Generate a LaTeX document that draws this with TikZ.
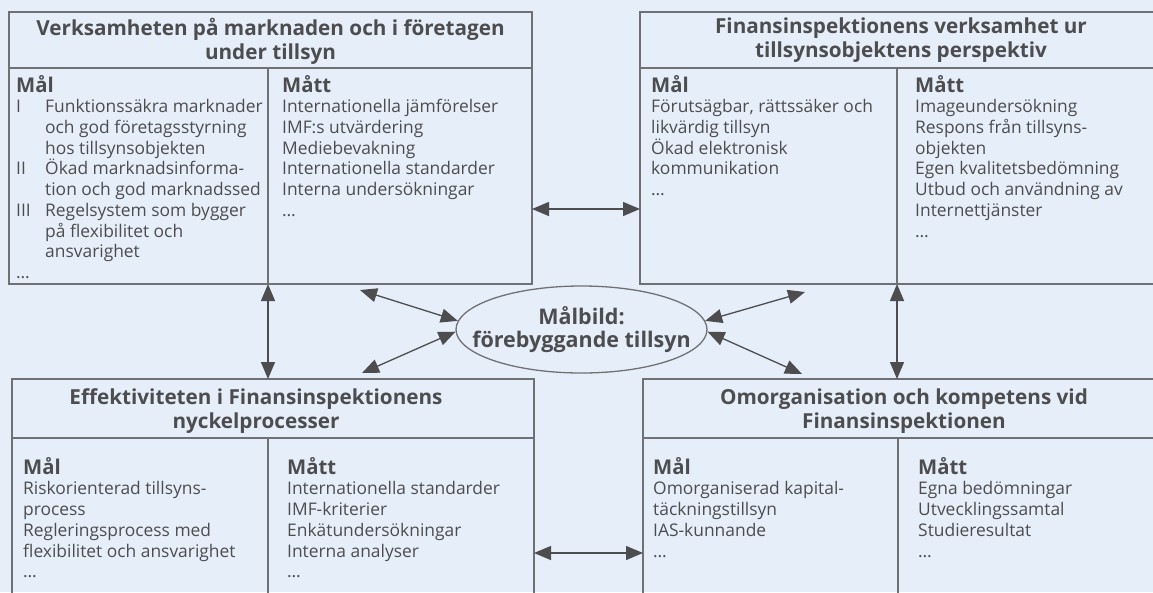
\documentclass[tikz,border=0pt]{standalone}
\usepackage{fontspec}
\setmainfont{Open Sans}
\usetikzlibrary{arrows.meta,positioning,shapes.geometric}
\definecolor{bg}{RGB}{230,238,249}
\definecolor{ink}{RGB}{77,77,80}
\definecolor{rl}{RGB}{112,113,117}
\newcommand{\romnr}[1]{\makebox[29pt][l]{#1}}
\newcommand{\hd}[1]{{\fontsize{20.3}{24}\selectfont\bfseries #1}}

\begin{document}
\begin{tikzpicture}[x=1pt, y=-1pt, text=ink,
  frame/.style={draw=rl, line width=1.3pt, inner sep=0pt, outer sep=0pt, anchor=north west},
  ttl/.style={font=\fontsize{20.7}{24}\selectfont\bfseries, align=center},
  txt/.style={font=\fontsize{17.4}{20.7}\selectfont, align=left, inner sep=0pt, anchor=north west},
  dbl/.style={draw=ink, line width=1.3pt, {Triangle[length=17pt,width=14pt]}-{Triangle[length=17pt,width=14pt]}}]
\useasboundingbox (0,0) rectangle (1153,592);
\fill[bg] (0,0) rectangle (1153,592);
\clip (0,0) rectangle (1153,592);
\node[frame, minimum width=523pt, minimum height=56pt] (verkHead) at (9,12) {};
\node[frame, minimum width=259pt, minimum height=216pt] (verkMal) at (9,68) {};
\node[frame, minimum width=264pt, minimum height=216pt] (verkMatt) at (268,68) {};
\node[frame, minimum width=523pt, minimum height=56pt] (finHead) at (640,12) {};
\node[frame, minimum width=257pt, minimum height=216pt] (finMal) at (640,68) {};
\node[frame, minimum width=266pt, minimum height=216pt] (finMatt) at (897,68) {};
\node[frame, minimum width=522pt, minimum height=59pt] (effHead) at (12,379) {};
\node[frame, minimum width=256pt, minimum height=230pt] (effMal) at (12,438) {};
\node[frame, minimum width=266pt, minimum height=230pt] (effMatt) at (268,438) {};
\node[frame, minimum width=522pt, minimum height=59pt] (omgHead) at (643,379) {};
\node[frame, minimum width=255pt, minimum height=230pt] (omgMal) at (643,438) {};
\node[frame, minimum width=267pt, minimum height=230pt] (omgMatt) at (898,438) {};
\node[ttl] (verkTitle) at (270.5,41) {Verksamheten på marknaden och i företagen\\under tillsyn};
\node[ttl] (finTitle) at (901,40) {Finansinspektionens verksamhet ur\\tillsynsobjektens perspektiv};
\node[ttl] (effTitle) at (256,411.5) {Effektiviteten i Finansinspektionens\\nyckelprocesser};
\node[ttl] (omgTitle) at (904,411.5) {Omorganisation och kompetens vid\\Finansinspektionen};
\node[txt, below right=7pt and 7pt of verkMal.north west] (verkMalTxt) {\hd{Mål}\\
  \romnr{I}Funktionssäkra marknader\\\romnr{}och god företagsstyrning\\\romnr{}hos tillsynsobjekten\\
  \romnr{II}Ökad marknadsinforma-\\\romnr{}tion och god marknadssed\\
  \romnr{III}Regelsystem som bygger\\\romnr{}på flexibilitet och\\\romnr{}ansvarighet\\\dots};
\node[txt, below right=7pt and 14pt of verkMatt.north west] (verkMattTxt) {\hd{Mått}\\
  Internationella jämförelser\\IMF:s utvärdering\\Mediebevakning\\Internationella standarder\\Interna undersökningar\\\dots};
\node[txt, below right=7pt and 11pt of finMal.north west] (finMalTxt) {\hd{Mål}\\
  Förutsägbar, rättssäker och\\likvärdig tillsyn\\Ökad elektronisk\\kommunikation\\\dots};
\node[txt, below right=7pt and 18pt of finMatt.north west] (finMattTxt) {\hd{Mått}\\
  Imageundersökning\\Respons från tillsyns-\\objekten\\Egen kvalitetsbedömning\\Utbud och användning av\\Internettjänster\\\dots};
\node[txt, below right=19pt and 11pt of effMal.north west] (effMalTxt) {\hd{Mål}\\
  Riskorienterad tillsyns-\\process\\Regleringsprocess med\\flexibilitet och ansvarighet\\\dots};
\node[txt, below right=19pt and 19pt of effMatt.north west] (effMattTxt) {\hd{Mått}\\
  Internationella standarder\\IMF-kriterier\\Enkätundersökningar\\Interna analyser\\\dots};
\node[txt, below right=19pt and 10pt of omgMal.north west] (omgMalTxt) {\hd{Mål}\\
  Omorganiserad kapital-\\täckningstillsyn\\IAS-kunnande\\\dots};
\node[txt, below right=19pt and 20pt of omgMatt.north west] (omgMattTxt) {\hd{Mått}\\
  Egna bedömningar\\Utvecklingssamtal\\Studieresultat\\\dots};
\node[ellipse, draw=rl, line width=1.3pt, minimum width=251pt, minimum height=87pt, inner xsep=-40pt, inner ysep=0pt,
  ttl, font=\fontsize{21.5}{23}\selectfont\bfseries] (goal) at (581.5,329.5) {Målbild:\\förebyggande tillsyn};
\coordinate (ulEnd) at (360,290);
\coordinate (llEnd) at (362,373);
\coordinate (urEnd) at (805,292);
\coordinate (lrEnd) at (802,374);
\draw[dbl] (verkMatt.south west) -- (verkMatt.south west |- effHead.north);
\draw[dbl] (finMatt.south west) -- (finMatt.south west |- omgHead.north);
\draw[dbl] ([yshift=-33pt]verkMatt.east) -- ([yshift=-33pt]finMal.west);
\draw[dbl] (effMatt.east) -- (omgMal.west);
\draw[dbl] (ulEnd) -- (goal.176); \draw[dbl] (llEnd) -- (goal.181);
\draw[dbl] (urEnd) -- (goal.4); \draw[dbl] (lrEnd) -- (goal.359);
\end{tikzpicture}
\end{document}
